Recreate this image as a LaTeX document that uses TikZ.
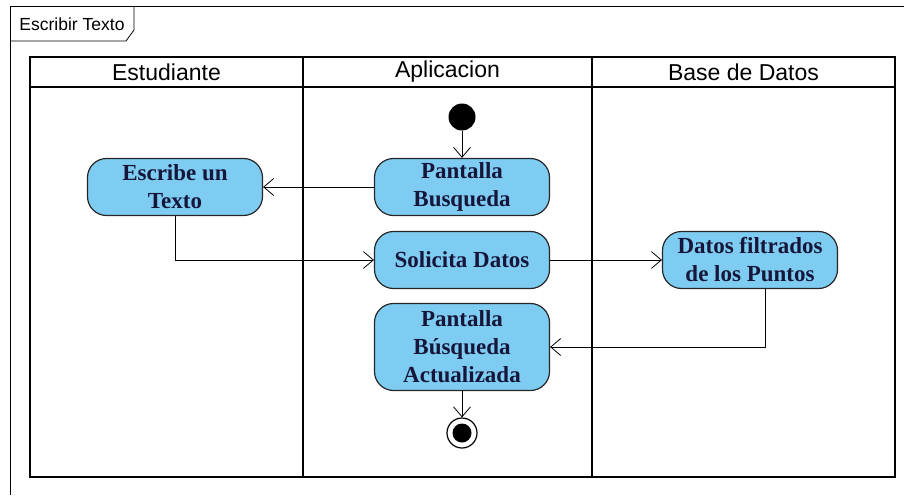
\documentclass[tikz,border=0pt]{standalone}
\usepackage{fontspec}
\setmainfont{Liberation Serif}
\setsansfont{Liberation Sans}
\usetikzlibrary{arrows.meta,shapes}
\definecolor{actfill}{RGB}{126,204,242}
\definecolor{acttext}{RGB}{22,22,58}
\tikzstyle{action}=[rectangle,rounded corners=19pt,draw=black!85,line width=1.2pt,fill=actfill,text=acttext,font=\fontsize{23}{28}\selectfont\bfseries,align=center,minimum width=175pt,minimum height=57pt,inner sep=2pt]
\tikzstyle{startdot}=[circle,fill=black,minimum size=27pt,inner sep=0pt]
\tikzstyle{enddot}=[circle,draw=black,line width=1.2pt,fill=white,minimum size=30pt,inner sep=0pt]
\tikzstyle{lanetitle}=[font=\sffamily\fontsize{23}{26}\selectfont]
\tikzstyle{lane} = [draw,line width=2.4pt]
\tikzstyle{flow} = [draw,line width=0.8pt,-{Straight Barb[length=10pt,width=17pt]}]

\begin{document}
\begin{tikzpicture}[x=1pt,y=-1pt]
    \useasboundingbox (0,0) rectangle (904,495);
    % Draw the frame and its tab
    \draw[line width=0.8pt] (10,495) -- (10,6) -- (904,6);
    \draw[line width=0.8pt] (10,41) -- (126,41) -- (134,30) -- (134,6);
    \node[font=\sffamily\fontsize{17.5}{20}\selectfont] (tab) at (72,24) {Escribir Texto};
    % Then the swimlanes
    \draw[lane] (30,57) rectangle (895,477);
    \draw[lane] (30,87) -- (895,87);
    \draw[lane] (303,57) -- (303,477);
    \draw[lane] (592,57) -- (592,477);
    \foreach \pos/\name/\txt in {166.5/est/Estudiante, 447.5/app/Aplicacion, 743.5/bd/Base de Datos}
        \node[lanetitle] (\name) at (\pos,72) {\txt};
    % Now the activities
    \node[startdot] (inicio) at (462,117) {};
    \node[action] (pantalla) at (462,187) {Pantalla\\Busqueda};
    \node[action] (escribe) at (175,187) {Escribe un\\Texto};
    \node[action] (solicita) at (462,260) {Solicita Datos};
    \node[action] (datos) at (750,260) {Datos filtrados\\de los Puntos};
    \node[action,minimum height=87pt] (actual) at (462,347) {Pantalla\\Búsqueda\\Actualizada};
    \node[enddot] (fin) at (462,433) {};
    \fill (fin) circle (9.5pt);
    % Connect activities with flows
    \path[flow] (inicio) -- (pantalla);
    \path[flow] (pantalla) -- (escribe);
    \path[flow] (escribe.south) |- (solicita.west);
    \path[flow] (solicita) -- (datos);
    \path[flow] ([xshift=15pt]datos.south) |- (actual.east);
    \path[flow] (actual) -- (fin);
\end{tikzpicture}
\end{document}
